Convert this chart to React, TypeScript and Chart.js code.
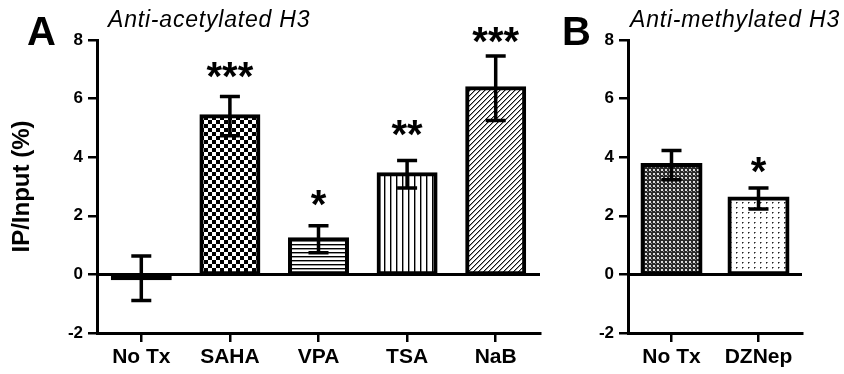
import React, { useEffect, useRef } from 'react';
import { Chart, registerables } from 'chart.js';

Chart.register(...registerables);

// ---- data ----
const catsA = ['No Tx', 'SAHA', 'VPA', 'TSA', 'NaB'];
const meansA = [-0.13, 5.4, 1.2, 3.42, 6.35];
const errsA = [0.76, 0.67, 0.46, 0.47, 1.1];
const starsA = ['', '***', '*', '**', '***'];
const starPosA = [0, 6.95, 2.57, 4.96, 8.14];
const patternsA = ['none', 'checker', 'hstripe', 'vstripe', 'diag'];

const catsB = ['No Tx', 'DZNep'];
const meansB = [3.73, 2.59];
const errsB = [0.5, 0.36];
const starsB = ['', '*'];
const starPosB = [0, 3.7];
const patternsB = ['dense', 'dots'];

const yMin = -2;
const yMax = 8;
const yStep = 2;

const FONT = '"Liberation Sans", Arial, sans-serif';

function makePattern(kind: string): CanvasPattern | string {
  if (kind === 'none') return '#000';
  const c = document.createElement('canvas');
  let w = 4, h = 4;
  if (kind === 'checker') { w = 8; h = 8; }
  if (kind === 'vstripe') { w = 6; h = 6; }
  if (kind === 'diag') { w = 5; h = 5; }
  if (kind === 'dots') { w = 6; h = 5; }
  c.width = w; c.height = h;
  const g = c.getContext('2d')!;
  g.fillStyle = '#fff';
  g.fillRect(0, 0, w, h);
  if (kind === 'checker') {
    g.fillStyle = '#000';
    g.fillRect(0, 0, 4, 4);
    g.fillRect(4, 4, 4, 4);
  } else if (kind === 'hstripe') {
    g.fillStyle = '#000'; g.fillRect(0, 0, w, 1);
    g.fillStyle = '#999'; g.fillRect(0, 1, w, 1);
  } else if (kind === 'vstripe') {
    g.fillStyle = '#000'; g.fillRect(0, 0, 1, h);
    g.fillStyle = '#999'; g.fillRect(1, 0, 1, h);
  } else if (kind === 'diag') {
    for (let i = 0; i < 5; i++) {
      g.fillStyle = '#111'; g.fillRect(i, 4 - i, 1, 1);
      g.fillStyle = '#999'; g.fillRect(i, (5 - i) % 5, 1, 1);
    }
  } else if (kind === 'dense') {
    g.fillStyle = '#2a2a2a'; g.fillRect(0, 0, w, h);
    g.fillStyle = '#ddd'; g.fillRect(1, 1, 2, 2);
    g.fillStyle = '#888'; g.fillRect(3, 3, 1, 1);
  } else if (kind === 'dots') {
    g.fillStyle = '#222'; g.fillRect(2, 2, 1, 1);
    g.fillStyle = '#888'; g.fillRect(3, 2, 1, 1); g.fillRect(2, 3, 1, 1);
  }
  return g.createPattern(c, 'repeat')!;
}

const decorPlugin = {
  id: 'decor',
  beforeDatasetsDraw(chart: any) {
    const ctx = chart.ctx;
    const y = chart.scales.y;
    const { left, right } = chart.chartArea;
    ctx.save();
    ctx.strokeStyle = '#000';
    ctx.lineWidth = 3;
    const y0 = y.getPixelForValue(0);
    ctx.beginPath();
    ctx.moveTo(left, y0);
    ctx.lineTo(right, y0);
    ctx.stroke();
    ctx.restore();
  },
  afterDatasetsDraw(chart: any, _args: any, opts: any) {
    const ctx = chart.ctx;
    const y = chart.scales.y;
    const meta = chart.getDatasetMeta(0);
    const data = chart.data.datasets[0].data as number[];
    ctx.save();
    ctx.strokeStyle = '#000';
    ctx.lineWidth = 3.5;
    meta.data.forEach((bar: any, i: number) => {
      const m = data[i];
      const e = opts.errs[i];
      const cx = bar.x;
      const yt = y.getPixelForValue(m + e);
      const yb = y.getPixelForValue(m - e);
      ctx.beginPath();
      ctx.moveTo(cx, yt); ctx.lineTo(cx, yb);
      ctx.moveTo(cx - 10, yt); ctx.lineTo(cx + 10, yt);
      ctx.moveTo(cx - 10, yb); ctx.lineTo(cx + 10, yb);
      ctx.stroke();
    });
    ctx.fillStyle = '#000';
    ctx.font = 'bold 40px ' + FONT;
    ctx.textAlign = 'center';
    ctx.textBaseline = 'alphabetic';
    meta.data.forEach((bar: any, i: number) => {
      const s = opts.stars[i];
      if (!s) return;
      ctx.fillText(s, bar.x, y.getPixelForValue(opts.starPos[i]) + 19);
    });
    ctx.restore();
  },
  afterDraw(chart: any, _args: any, opts: any) {
    const ctx = chart.ctx;
    ctx.save();
    ctx.fillStyle = '#000';
    ctx.textAlign = 'left';
    ctx.textBaseline = 'alphabetic';
    ctx.font = 'bold 40px ' + FONT;
    ctx.fillText(opts.letter, opts.letterX, 45);
    ctx.font = 'italic 23px ' + FONT;
    (ctx as any).letterSpacing = '0.8px';
    ctx.fillText(opts.title, opts.titleX, 27);
    ctx.restore();
  },
};

function makeConfig(
  cats: string[], means: number[], pats: string[], errs: number[], stars: string[], starPos: number[],
  letter: string, title: string, letterX: number, titleX: number,
  axisW: number, padRight: number, barPct: number, yTitle: string | null
): any {
  return {
    type: 'bar',
    data: {
      labels: cats,
      datasets: [{
        data: means,
        backgroundColor: pats.map(makePattern),
        borderColor: '#000',
        borderWidth: 4,
        inflateAmount: 2,
        borderSkipped: false,
        barPercentage: barPct,
        categoryPercentage: 1,
      }],
    },
    options: {
      responsive: false,
      animation: false,
      layout: { padding: { top: 40, right: padRight, left: 0, bottom: 0 } },
      plugins: {
        legend: { display: false },
        tooltip: { enabled: false },
        decor: { errs, stars, starPos, letter, title, letterX, titleX },
      },
      scales: {
        x: {
          grid: { drawOnChartArea: false, drawTicks: true, tickLength: 9, color: '#000', lineWidth: 2.5, offset: false },
          border: { display: true, color: '#000', width: 3 },
          ticks: { color: '#000', font: { family: FONT, size: 21, weight: 'bold' }, padding: 3, maxRotation: 0, autoSkip: false },
          afterFit: (s: any) => { s.height = 41; },
        },
        y: {
          min: yMin, max: yMax,
          grid: { drawOnChartArea: false, drawTicks: true, tickLength: 9, color: '#000', lineWidth: 2.5 },
          border: { display: true, color: '#000', width: 3 },
          ticks: { stepSize: yStep, color: '#000', font: { family: FONT, size: 17, weight: 'bold' }, padding: 5 },
          title: yTitle ? { display: true, text: yTitle, color: '#000', font: { family: FONT, size: 24, weight: 'bold' }, padding: { top: 8, bottom: 0 } } : { display: false },
          afterFit: (s: any) => { s.width = axisW; },
        },
      },
    },
    plugins: [decorPlugin],
  };
}

export default function App() {
  const refA = useRef<HTMLCanvasElement>(null);
  const refB = useRef<HTMLCanvasElement>(null);
  useEffect(() => {
    const a = new Chart(refA.current!, makeConfig(
      catsA, meansA, patternsA, errsA, starsA, starPosA,
      'A', 'Anti-acetylated H3', 27, 108, 97, 20, 0.643, 'IP/Input (%)'));
    const b = new Chart(refB.current!, makeConfig(
      catsB, meansB, patternsB, errsB, starsB, starPosB,
      'B', 'Anti-methylated H3', 2, 70, 68, 42, 0.667, null));
    return () => { a.destroy(); b.destroy(); };
  }, []);
  return (
    <div style={{ position: 'fixed', left: 0, top: 0, width: 844, height: 374, background: '#fff' }}>
      <canvas ref={refA} width={560} height={374} style={{ position: 'absolute', left: 0, top: 0 }} />
      <canvas ref={refB} width={284} height={374} style={{ position: 'absolute', left: 560, top: 0 }} />
    </div>
  );
}
